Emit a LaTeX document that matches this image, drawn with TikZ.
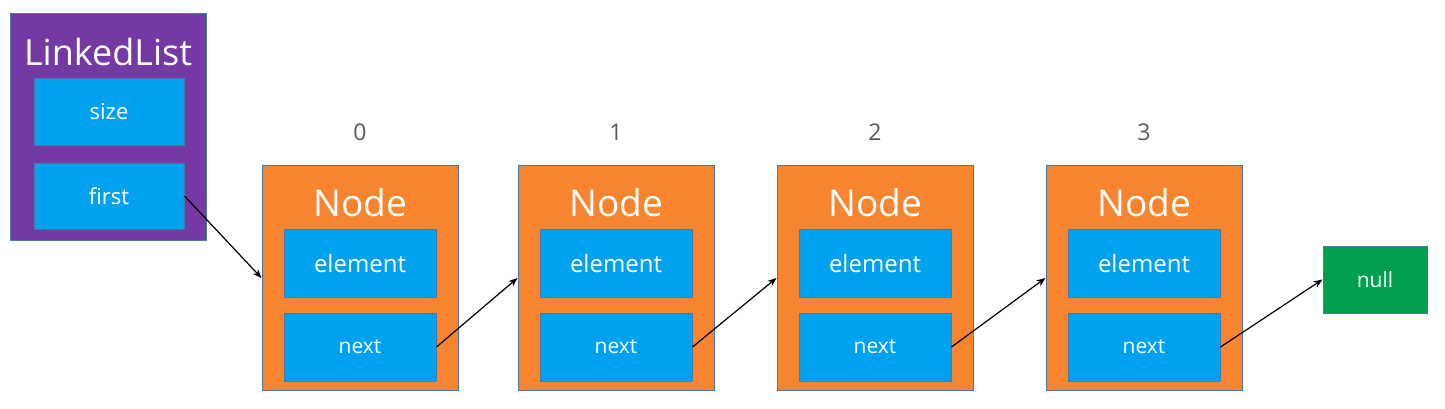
\documentclass[tikz,border=0pt]{standalone}
\usepackage{fontspec}
\setmainfont{Open Sans}
\usetikzlibrary{arrows.meta}
\definecolor{llpurple}{HTML}{7539A3}
\definecolor{ndorange}{HTML}{F7852F}
\definecolor{fldblue}{HTML}{00A2F0}
\definecolor{nullgreen}{HTML}{00A050}
\definecolor{edge}{HTML}{4A78A8}
\definecolor{idxgray}{HTML}{595959}
\tikzset{
  box/.style={draw=edge, line width=1pt, inner sep=0pt, anchor=center},
  outerbox/.style={box, fill=ndorange, minimum width=196pt, minimum height=225pt},
  field/.style={box, fill=fldblue, minimum width=152pt, minimum height=68pt, text=white, font=\fontsize{21}{25}\selectfont},
  title/.style={text=white, inner sep=0pt, font=\fontsize{37}{42}\selectfont},
  idx/.style={text=idxgray, inner sep=0pt, font=\fontsize{23}{27}\selectfont},
  arr/.style={-{Stealth[length=9pt,width=7pt]}, line width=1.2pt, black},
}
\begin{document}
\begin{tikzpicture}[x=1pt,y=-1pt]
\useasboundingbox (0,0) rectangle (1445,409);
% LinkedList
\node[box, fill=llpurple, minimum width=196pt, minimum height=226pt] (ll) at (108,127) {};
\node[title, font=\fontsize{36}{41}\selectfont] (lltitle) at (108,52) {LinkedList};
\node[field, minimum width=150pt, minimum height=66pt, font=\fontsize{22}{26}\selectfont] (size) at (109,112) {size};
\node[field, minimum width=150pt, minimum height=66pt, font=\fontsize{22}{26}\selectfont] (first) at (109,196) {first};
% Nodes
\foreach \i/\x in {0/360,1/616,2/875,3/1144}{
  \node[outerbox] (n\i) at (\x,278) {};
  \node[title] (t\i) at (\x,203) {Node};
  \node[field, font=\fontsize{24}{28}\selectfont] (e\i) at (\x,263) {element};
  \node[field] (x\i) at (\x,347) {next};
  \node[idx] (i\i) at (\x,132) {\i};
}
% null
\node[box, fill=nullgreen, minimum width=104pt, minimum height=67pt, text=white, font=\fontsize{21}{25}\selectfont] (null) at (1375,279.5) {null};
% arrows
\draw[arr] (first.east) -- (n0.west);
\draw[arr] (x0.east) -- (n1.west);
\draw[arr] (x1.east) -- (n2.west);
\draw[arr] (x2.east) -- (n3.west);
\draw[arr] (x3.east) -- (null.west);
\end{tikzpicture}
\end{document}
